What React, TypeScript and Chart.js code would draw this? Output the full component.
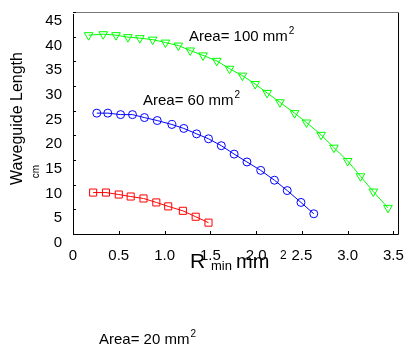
import React, { useEffect, useRef } from 'react';
import { Chart, registerables } from 'chart.js';

Chart.register(...registerables);

const FONT = "'Liberation Sans', Arial, Helvetica, sans-serif";

// Area = 100 mm^2 (green, down triangles)
const greenX = [0.17, 0.33, 0.47, 0.6, 0.73, 0.87, 1.01, 1.15, 1.28, 1.42, 1.57, 1.71, 1.85, 1.99, 2.12, 2.26, 2.42, 2.55, 2.71, 2.85, 3.0, 3.14, 3.28, 3.44];
const greenY = [40.3, 40.5, 40.3, 39.9, 39.7, 39.4, 38.8, 38.2, 37.2, 36.2, 35.1, 33.5, 32.1, 30.4, 28.6, 26.7, 24.5, 22.6, 20.1, 17.5, 14.8, 11.7, 8.6, 5.3];

// Area = 60 mm^2 (blue, circles)
const blueX = [0.26, 0.38, 0.52, 0.65, 0.78, 0.92, 1.08, 1.21, 1.35, 1.48, 1.62, 1.76, 1.9, 2.05, 2.2, 2.34, 2.49, 2.63];
const blueY = [24.5, 24.5, 24.2, 24.2, 23.6, 23.0, 22.2, 21.4, 20.3, 19.3, 17.9, 16.2, 14.6, 12.9, 10.9, 8.8, 6.4, 4.1];

// Area = 20 mm^2 (red, squares)
const redX = [0.22, 0.36, 0.5, 0.63, 0.77, 0.91, 1.04, 1.2, 1.34, 1.48];
const redY = [8.4, 8.4, 8.0, 7.6, 7.2, 6.4, 5.6, 4.7, 3.5, 2.3];

const xMin = 0;
const xMax = 3.55;
const xStep = 0.5;
const yMin = 0;
const yMax = 45;
const yStep = 5;

const yTitle = 'Waveguide Length';
const yUnit = 'cm';
const labelArea100 = 'Area= 100 mm';
const labelArea60 = 'Area= 60 mm';
const labelArea20 = 'Area= 20 mm';

const pts = (xs: number[], ys: number[]) => xs.map((x, i) => ({ x, y: ys[i] }));

const decor = {
  id: 'decor',
  afterDraw(chart: any) {
    const { ctx, chartArea, scales } = chart;
    const { left, right, top, bottom } = chartArea;
    const xs = scales.x;
    const ys = scales.y;
    ctx.save();
    ctx.lineWidth = 1;
    // frame
    ctx.strokeStyle = '#000';
    ctx.beginPath();
    ctx.moveTo(left + 0.5, top + 2);
    ctx.lineTo(left + 0.5, bottom + 0.5);
    ctx.lineTo(right + 0.5, bottom + 0.5);
    ctx.lineTo(right + 0.5, top);
    ctx.stroke();
    ctx.strokeStyle = '#777';
    ctx.beginPath();
    ctx.moveTo(left, top + 0.5);
    ctx.lineTo(right + 1, top + 0.5);
    ctx.stroke();
    // inner ticks
    ctx.strokeStyle = '#000';
    ctx.beginPath();
    xs.ticks.forEach((t: any) => {
      const px = Math.round(xs.getPixelForValue(t.value)) + 0.5;
      ctx.moveTo(px, bottom);
      ctx.lineTo(px, bottom - 3);
    });
    ys.ticks.forEach((t: any) => {
      const py = Math.round(ys.getPixelForValue(t.value)) + 0.5;
      ctx.moveTo(left, py);
      ctx.lineTo(left + 3, py);
    });
    ctx.stroke();

    ctx.fillStyle = '#000';
    // y title
    ctx.save();
    ctx.translate(21.5, 118.5);
    ctx.rotate(-Math.PI / 2);
    ctx.font = `16px ${FONT}`;
    ctx.textAlign = 'center';
    ctx.textBaseline = 'alphabetic';
    ctx.fillText(yTitle, 0, 0);
    ctx.restore();
    ctx.save();
    ctx.translate(38.5, 171.5);
    ctx.rotate(-Math.PI / 2);
    ctx.font = `10px ${FONT}`;
    ctx.textAlign = 'center';
    ctx.textBaseline = 'alphabetic';
    ctx.fillText(yUnit, 0, 0);
    ctx.restore();

    // x title: R_min mm^2
    ctx.textAlign = 'left';
    ctx.textBaseline = 'alphabetic';
    ctx.font = `21px ${FONT}`;
    ctx.fillText('R', 190, 268);
    ctx.font = `13px ${FONT}`;
    ctx.fillText('min', 211, 270);
    ctx.font = `20px ${FONT}`;
    ctx.fillText('mm', 236, 268);
    ctx.font = `12px ${FONT}`;
    ctx.fillText('2', 280, 259);

    // annotations
    const area = (txt: string, x: number, y: number) => {
      ctx.font = `15px ${FONT}`;
      ctx.fillText(txt, x, y);
      const w = ctx.measureText(txt).width;
      ctx.font = `10px ${FONT}`;
      ctx.fillText('2', x + w + 1, y - 7);
    };
    area(labelArea100, 189, 41);
    area(labelArea60, 143, 105);
    area(labelArea20, 99, 344);
    ctx.restore();
  },
};

export default function App() {
  const ref = useRef<HTMLCanvasElement | null>(null);
  useEffect(() => {
    if (!ref.current) return;
    const chart = new Chart(ref.current, {
      type: 'line',
      data: {
        datasets: [
          {
            data: pts(greenX, greenY),
            borderColor: '#00ff00',
            backgroundColor: 'rgba(0,0,0,0)',
            borderWidth: 1,
            pointStyle: 'triangle',
            rotation: 180,
            pointRadius: 5,
            pointBorderWidth: 1,
            pointBorderColor: '#00ff00',
            pointBackgroundColor: 'rgba(0,0,0,0)',
          },
          {
            data: pts(blueX, blueY),
            borderColor: '#0000ff',
            backgroundColor: 'rgba(0,0,0,0)',
            borderWidth: 1,
            pointStyle: 'circle',
            pointRadius: 4,
            pointBorderWidth: 1,
            pointBorderColor: '#0000ff',
            pointBackgroundColor: 'rgba(0,0,0,0)',
          },
          {
            data: pts(redX, redY),
            borderColor: '#ff0000',
            backgroundColor: 'rgba(0,0,0,0)',
            borderWidth: 1,
            pointStyle: 'rect',
            pointRadius: 5,
            pointBorderWidth: 1,
            pointBorderColor: '#ff0000',
            pointBackgroundColor: 'rgba(0,0,0,0)',
          },
        ],
      } as any,
      options: {
        responsive: false,
        animation: false,
        layout: { padding: { left: 0, right: 9, top: 3, bottom: 0 } },
        plugins: { legend: { display: false }, tooltip: { enabled: false }, title: { display: false } },
        scales: {
          x: {
            type: 'linear',
            min: xMin,
            max: xMax,
            grid: { display: false },
            border: { display: false },
            ticks: {
              stepSize: xStep,
              includeBounds: false,
              autoSkip: false,
              maxRotation: 0,
              padding: 5,
              color: '#000',
              font: { family: FONT, size: 15 },
            },
            afterFit: (s: any) => { s.height = 120; },
          },
          y: {
            type: 'linear',
            min: yMin,
            max: yMax,
            grid: { display: false },
            border: { display: false },
            ticks: {
              stepSize: yStep,
              autoSkip: false,
              padding: 3,
              labelOffset: 9,
              color: '#000',
              font: { family: FONT, size: 15 },
            },
            afterFit: (s: any) => { s.width = 73; },
          },
        },
      } as any,
      plugins: [decor],
    });
    return () => chart.destroy();
  }, []);
  return (
    <div style={{ position: 'absolute', left: 0, top: 0, width: 409, height: 354, background: '#fff' }}>
      <canvas ref={ref} width={409} height={354} style={{ display: 'block' }} />
    </div>
  );
}
